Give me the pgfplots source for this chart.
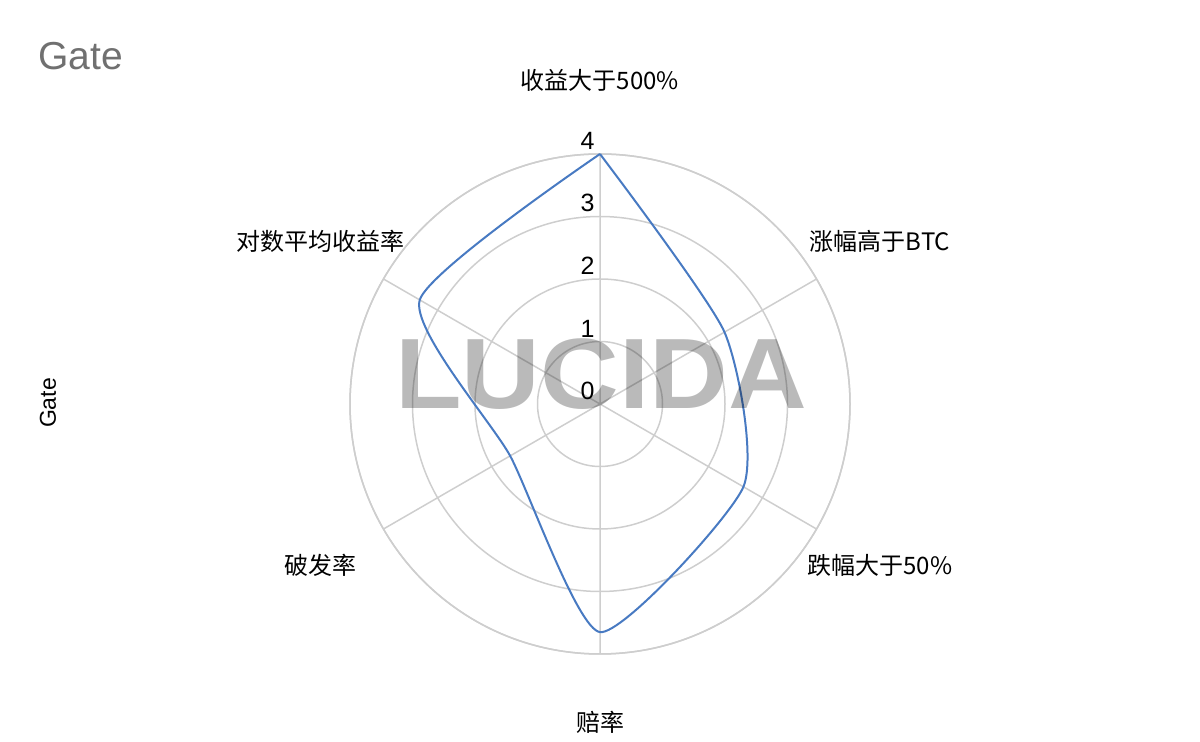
\documentclass[border=0pt]{standalone}
\usepackage{fontspec}
\setmainfont{Liberation Sans}
\newfontfamily\cjk{Noto Sans CJK SC}
\usepackage{pgfplots}
\pgfplotsset{compat=1.18}
\usepgfplotslibrary{polar}

\definecolor{gridgray}{RGB}{206,206,206}
\definecolor{lineblue}{RGB}{72,122,194}
\definecolor{titlegray}{RGB}{112,112,112}

\begin{document}
\begin{tikzpicture}[x=0.5pt,y=0.5pt]
\path[use as bounding box] (0,0) rectangle (1200,742);

\begin{polaraxis}[
    at={(300pt,169pt)}, anchor=center,
    scale only axis,
    width=250pt, height=250pt,
    xmin=0, xmax=360,
    ymin=0, ymax=4,
    xtick={30,90,150,210,270,330},
    xticklabels={},
    ytick={1,2,3,4},
    yticklabels={},
    grid=major,
    major grid style={gridgray, line width=0.75pt},
    x axis line style={gridgray, line width=0.75pt},
    y axis line style={draw=none},
    major tick length=0pt,
    clip=false,
]
\addplot[lineblue, line width=1pt, smooth, tension=0.35]
    coordinates {(90,4) (30,2.3) (330,2.65) (270,3.65) (210,1.66) (150,3.33) (90,4)};

\pgfplotsinvokeforeach{0,1,2,3,4}{
  \node[anchor=south east, inner sep=0pt, xshift=-2.5pt, yshift=2pt,
        font=\fontsize{12.5}{12.5}\selectfont] at (axis cs:90,#1) {#1};
}
\end{polaraxis}

% watermark
\node[font=\fontsize{50}{50}\selectfont\bfseries, text=black, text opacity=0.27,
      xscale=1.09, inner sep=0pt] at (601,368) {LUCIDA};

% category labels
\begin{scope}[every node/.style={font=\cjk\fontsize{12}{12}\selectfont, inner sep=0pt}]
\node at (600,662) {收益大于500\%};
\node at (880,501) {涨幅高于BTC};
\node at (880,177) {跌幅大于50\%};
\node at (600,20) {赔率};
\node at (320,177) {破发率};
\node at (320,501) {对数平均收益率};
\end{scope}

% titles
\node[anchor=base west, inner sep=0pt, text=titlegray,
      font=\fontsize{19.5}{19.5}\selectfont] at (38,672) {Gate};
\node[rotate=90, inner sep=0pt, font=\fontsize{11.5}{11.5}\selectfont] at (48,339) {Gate};
\end{tikzpicture}
\end{document}
